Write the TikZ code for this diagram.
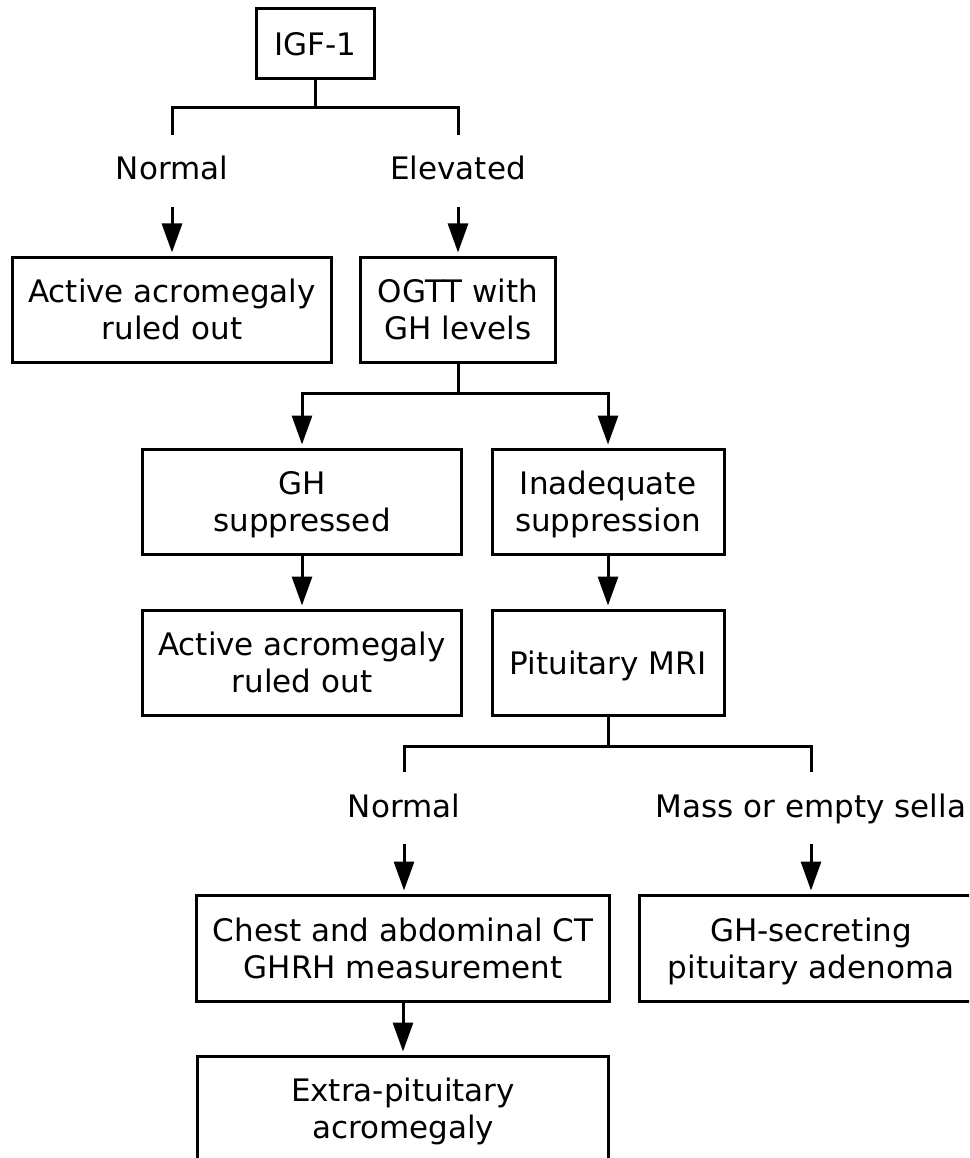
\documentclass[tikz,border=0pt]{standalone}
\usepackage{fontspec}
\setmainfont{DejaVu Sans}
\usetikzlibrary{arrows.meta}
\newcommand\zl[1]{\raisebox{0pt}[23pt][0pt]{#1}}
\begin{document}
\begin{tikzpicture}[x=1pt,y=-1pt,
  flowbox/.style={draw, line width=3pt, inner sep=0pt, align=center,
    font=\fontsize{31}{37}\selectfont},
  branchlabel/.style={inner sep=0pt, minimum height=72pt, text height=18pt, text depth=0pt,
    font=\fontsize{31}{37}\selectfont},
  conn/.style={line width=3pt},
  arr/.style={conn, shorten >=3pt, -{Triangle[length=29pt,width=20pt]}}]
\clip (0,0) rectangle (969,1158);
% boxes
\node[flowbox, minimum width=118pt, minimum height=70pt] (igf) at (315,44) {\zl{IGF-1}};
\node[branchlabel] (n1) at (172,171) {Normal};
\node[branchlabel] (el) at (458,171) {Elevated};
\node[flowbox, minimum width=319pt, minimum height=105pt] (act1) at (172,309.5) {\zl{Active acromegaly}\\\zl{ruled out}};
\node[flowbox, minimum width=195pt, minimum height=105pt] (ogtt) at (458,309.5) {\zl{OGTT with}\\\zl{GH levels}};
\node[flowbox, minimum width=319pt, minimum height=105pt] (ghs) at (302,501.5) {\zl{GH}\\\zl{suppressed}};
\node[flowbox, minimum width=232pt, minimum height=105pt] (inad) at (608,501.5) {\zl{Inadequate}\\\zl{suppression}};
\node[flowbox, minimum width=319pt, minimum height=105pt] (act2) at (302,662.5) {\zl{Active acromegaly}\\\zl{ruled out}};
\node[flowbox, minimum width=232pt, minimum height=105pt] (mri) at (608,662.5) {\zl{Pituitary MRI}};
\node[branchlabel] (n2) at (404,808) {Normal};
\node[branchlabel] (mass) at (811,808) {Mass or empty sella};
\node[flowbox, minimum width=413pt, minimum height=106pt] (chest) at (403,948) {\zl{Chest and abdominal CT}\\\zl{GHRH measurement}};
\node[flowbox, minimum width=344pt, minimum height=106pt] (ghsec) at (811,948) {\zl{GH-secreting}\\\zl{pituitary adenoma}};
\node[flowbox, minimum width=411pt, minimum height=105pt] (extra) at (403,1108.5) {\zl{Extra-pituitary}\\\zl{acromegaly}};
% junctions
\coordinate (b1) at (315,108);
\coordinate (b2) at (458,393);
\coordinate (b3) at (608,746);
% connectors
\draw[conn] (igf.south) -- (b1);
\draw[conn] (n1.north) |- (b1) -| (el.north);
\draw[arr] (n1.south) -- (act1.north);
\draw[arr] (el.south) -- (ogtt.north);
\draw[conn] (ogtt.south) -- (b2);
\draw[arr] (b2) -| (ghs.north);
\draw[arr] (b2) -| (inad.north);
\draw[arr] (ghs.south) -- (act2.north);
\draw[arr] (inad.south) -- (mri.north);
\draw[conn] (mri.south) -- (b3);
\draw[conn] (n2.north) |- (b3) -| (mass.north);
\draw[arr] (n2.south) -- (n2.south |- chest.north);
\draw[arr] (mass.south) -- (ghsec.north);
\draw[arr] (chest.south) -- (extra.north);
\end{tikzpicture}
\end{document}
